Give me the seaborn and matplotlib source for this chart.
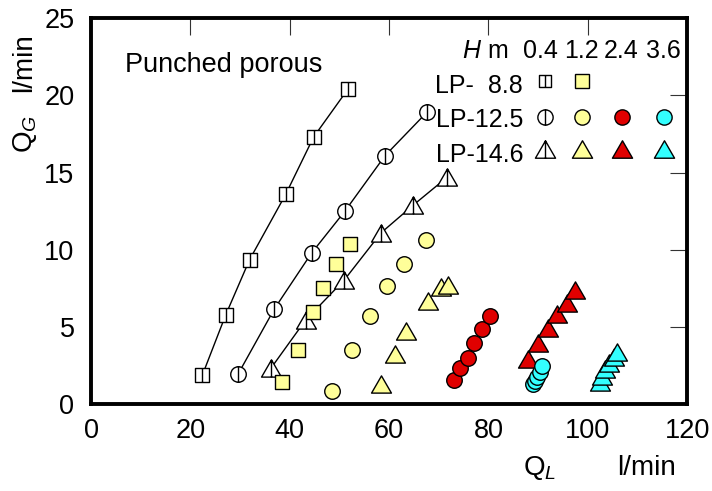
import numpy as np
import pandas as pd
import matplotlib
matplotlib.use("Agg")
import matplotlib.pyplot as plt
from matplotlib.path import Path
import seaborn as sns

# ---------------- data ----------------
# LP-8.8, H = 0.4 m (open square)
ql_88_04 = [22.4, 27.1, 31.9, 39.2, 44.8, 51.7]
qg_88_04 = [1.88, 5.78, 9.35, 13.6, 17.3, 20.4]
# LP-12.5, H = 0.4 m (open circle)
ql_125_04 = [29.6, 36.9, 44.4, 51.1, 59.2, 67.6]
qg_125_04 = [1.95, 6.17, 9.79, 12.5, 16.1, 18.9]
# LP-14.6, H = 0.4 m (open triangle)
ql_146_04 = [36.2, 43.2, 51.0, 58.4, 64.9, 71.7]
qg_146_04 = [2.32, 5.45, 8.05, 11.1, 12.9, 14.7]
# LP-8.8, H = 1.2 m (yellow square)
ql_88_12 = [38.5, 41.7, 44.7, 46.7, 49.3, 52.2]
qg_88_12 = [1.45, 3.51, 5.99, 7.55, 9.09, 10.4]
# LP-12.5, H = 1.2 m (yellow circle)
ql_125_12 = [48.6, 52.5, 56.1, 59.6, 63.0, 67.5]
qg_125_12 = [0.86, 3.51, 5.71, 7.62, 9.09, 10.65]
# LP-14.6, H = 1.2 m (yellow triangle)
ql_146_12 = [58.4, 61.1, 63.5, 67.8, 70.4, 71.9]
qg_146_12 = [1.30, 3.25, 4.76, 6.71, 7.58, 7.73]
# LP-12.5, H = 2.4 m (red circle)
ql_125_24 = [73.0, 74.2, 75.9, 77.1, 78.8, 80.3]
qg_125_24 = [1.56, 2.36, 2.97, 3.94, 4.85, 5.73]
# LP-14.6, H = 2.4 m (red triangle)
ql_146_24 = [87.9, 90.0, 91.9, 93.9, 95.8, 97.4]
qg_146_24 = [2.90, 3.98, 4.92, 5.82, 6.54, 7.36]
# LP-12.5, H = 3.6 m (cyan circle)
ql_125_36 = [89.0, 89.3, 89.7, 90.3, 90.8]
qg_125_36 = [1.30, 1.49, 1.75, 2.08, 2.49]
# LP-14.6, H = 3.6 m (cyan triangle)
ql_146_36 = [102.5, 102.8, 103.5, 104.3, 105.2, 105.9]
qg_146_36 = [1.45, 1.82, 2.25, 2.64, 3.03, 3.40]

head_labels = ["0.4", "1.2", "2.4", "3.6"]
row_labels = ["LP-  8.8", "LP-12.5", "LP-14.6"]
x_ticks = [0, 20, 40, 60, 80, 100, 120]
y_ticks = [0, 5, 10, 15, 20, 25]

# ---------------- fonts ----------------
sns.set_theme(style="white")
FONT = "Liberation Sans"
plt.rcParams["font.family"] = [FONT, "DejaVu Sans"]
plt.rcParams["text.color"] = "black"
plt.rcParams["mathtext.fontset"] = "custom"
plt.rcParams["mathtext.rm"] = FONT
plt.rcParams["mathtext.it"] = FONT + ":italic"

# ---------------- markers ----------------
M, L, C = Path.MOVETO, Path.LINETO, Path.CLOSEPOLY
sq_bar = Path([(-1, -1), (1, -1), (1, 1), (-1, 1), (-1, -1), (0, -1), (0, 1)],
              [M, L, L, L, C, M, L])
circ_bar = Path.make_compound_path(Path.unit_circle(), Path([(0, -1), (0, 1)], [M, L]))
h = 1.0
w = 1.1547
tri = Path([(0, h), (-w, -h), (w, -h), (0, h)], [M, L, L, C])
tri_bar = Path([(0, h), (-w, -h), (w, -h), (0, h), (0, -h), (0, h)], [M, L, L, C, M, L])

YEL = "#FFFF99"
RED = "#E00000"
CYA = "#33FFFF"

S_SQ, S_CI, S_TR = 112, 125, 205

series = [
    (ql_88_04, qg_88_04, sq_bar, "white", S_SQ, True),
    (ql_125_04, qg_125_04, circ_bar, "white", S_CI, True),
    (ql_146_04, qg_146_04, tri_bar, "white", S_TR, True),
    (ql_88_12, qg_88_12, "s", YEL, S_SQ, False),
    (ql_125_12, qg_125_12, "o", YEL, S_CI, False),
    (ql_146_12, qg_146_12, tri, YEL, S_TR, False),
    (ql_125_24, qg_125_24, "o", RED, S_CI, False),
    (ql_146_24, qg_146_24, tri, RED, S_TR, False),
    (ql_125_36, qg_125_36, "o", CYA, S_CI, False),
    (ql_146_36, qg_146_36, tri, CYA, S_TR, False),
]

fig = plt.figure(figsize=(7.12, 4.91), dpi=100)
ax = fig.add_axes([0.128, 0.177, 0.837, 0.786])

for xs, ys, mk, fc, s, connect in series:
    df = pd.DataFrame({"QL": xs, "QG": ys})
    if connect:
        sns.lineplot(data=df, x="QL", y="QG", sort=False, color="black",
                     linewidth=1.0, ax=ax, zorder=2)
    sns.scatterplot(data=df, x="QL", y="QG", marker=mk, s=s, color=fc,
                    edgecolor="black", linewidth=1.0, ax=ax, zorder=3)

ax.set_xlim(0, 120)
ax.set_ylim(0, 25)
ax.set_xticks(x_ticks)
ax.set_yticks(y_ticks)
ax.set_xticklabels([str(v) for v in x_ticks])
ax.set_yticklabels([str(v) for v in y_ticks])
ax.set_xlabel("")
ax.set_ylabel("")
ax.tick_params(axis="both", which="both", direction="in", top=True, right=True,
               length=12, width=0.8, color="#333333", labelsize=19.5,
               labelcolor="black")
ax.tick_params(axis="x", pad=10)
ax.tick_params(axis="y", pad=12)
for sp in ax.spines.values():
    sp.set_visible(True)
    sp.set_linewidth(2.8)
    sp.set_color("black")
ax.grid(False)

# title text
ax.text(0.057, 0.860, "Punched porous", transform=ax.transAxes, fontsize=19.5,
        ha="left", va="baseline", color="black")

# legend table
FS_LEG = 18
hx = [0.754, 0.822, 0.890, 0.960]
ax.text(0.70, 0.896, r"$H$ m", transform=ax.transAxes, fontsize=FS_LEG,
        ha="right", va="baseline", color="black")
for xx, lab in zip(hx, head_labels):
    ax.text(xx, 0.896, lab, transform=ax.transAxes, fontsize=FS_LEG,
            ha="center", va="baseline", color="black")
row_y_text = [0.806, 0.718, 0.627]
row_y_mk = [0.838, 0.745, 0.662]
for yy, lab in zip(row_y_text, row_labels):
    ax.text(0.725, yy, lab, transform=ax.transAxes, fontsize=FS_LEG,
            ha="right", va="baseline", color="black")
mx = [0.762, 0.824, 0.891, 0.961]
leg = [
    (0, 0, sq_bar, "white", 9), (0, 1, "s", YEL, 10.5),
    (1, 0, circ_bar, "white", 11), (1, 1, "o", YEL, 11), (1, 2, "o", RED, 11), (1, 3, "o", CYA, 11),
    (2, 0, tri_bar, "white", 14.5), (2, 1, tri, YEL, 14.5), (2, 2, tri, RED, 14.5), (2, 3, tri, CYA, 14.5),
]
for r, c, mk, fc, ms in leg:
    ax.plot([mx[c]], [row_y_mk[r]], marker=mk, markersize=ms, markerfacecolor=fc,
            markeredgecolor="black", markeredgewidth=1.0, linestyle="none",
            transform=ax.transAxes, clip_on=False, zorder=4)

# axis labels
ax.text(0.725, -0.184, r"Q$_{\mathit{L}}$", transform=ax.transAxes, fontsize=20,
        ha="left", va="baseline", color="black")
ax.text(0.883, -0.184, "l/min", transform=ax.transAxes, fontsize=20,
        ha="left", va="baseline", color="black")
ax.text(-0.134, 0.650, r"Q$_{\mathit{G}}$", transform=ax.transAxes, fontsize=20,
        rotation=90, ha="left", va="bottom", color="black")
ax.text(-0.134, 0.808, "l/min", transform=ax.transAxes, fontsize=20,
        rotation=90, ha="left", va="bottom", color="black")

fig.savefig("out.png", dpi=100)
